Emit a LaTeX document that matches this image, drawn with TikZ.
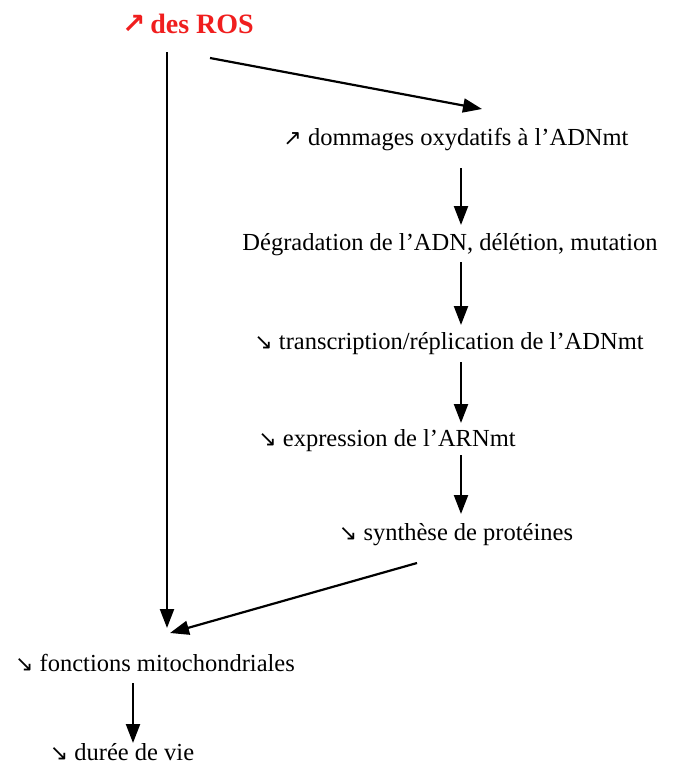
\documentclass[tikz,border=0pt]{standalone}
\usepackage{fontspec}
\setmainfont{Liberation Serif}
\newfontfamily\arrfont{DejaVu Sans}
\usetikzlibrary{arrows.meta}
\definecolor{rosred}{RGB}{240,30,30}
\tikzset{
  lbl/.style={anchor=base, inner sep=0pt, font=\fontsize{24.5}{28}\selectfont},
  flow/.style={line width=2.2pt, -{Triangle[width=14pt,length=19pt]}},
}
\newcommand{\up}{{\arrfont\fontsize{22}{24}\selectfont ↗}}
\newcommand{\down}{{\arrfont\fontsize{22}{24}\selectfont ↘}}
\begin{document}
\begin{tikzpicture}[x=1pt,y=-1pt]
\useasboundingbox (0,0) rectangle (673,774);
\node[lbl, text=rosred, font=\fontsize{28}{32}\selectfont\bfseries] (ros) at (188,33) {{\arrfont\fontsize{28}{30}\selectfont ↗}\,des ROS};
\node[lbl] (dom) at (456,145) {\up\ dommages oxydatifs à l’ADNmt};
\node[lbl] (deg) at (450,250) {Dégradation de l’ADN, délétion, mutation};
\node[lbl] (tra) at (449,349) {\down\ transcription/réplication de l’ADNmt};
\node[lbl] (exp) at (387,446) {\down\ expression de l’ARNmt};
\node[lbl] (syn) at (456,540) {\down\ synthèse de protéines};
\node[lbl] (fon) at (155,671) {\down\ fonctions mitochondriales};
\node[lbl] (dur) at (122,760) {\down\ durée de vie};
% connector ends
\coordinate (rosA) at (167,52);
\coordinate (rosB) at (210,58);
\coordinate (domIn) at (482,109);
\coordinate (domOut) at (461,168);
\coordinate (degIn) at (461,225);
\coordinate (degOut) at (461,262);
\coordinate (traIn) at (461,325);
\coordinate (traOut) at (461,362);
\coordinate (expIn) at (461,423);
\coordinate (expOut) at (461,455);
\coordinate (synIn) at (461,514);
\coordinate (synOut) at (417,563);
\coordinate (fonIn) at (167,628);
\coordinate (fonIn2) at (170,633);
\coordinate (fonOut) at (133,683);
\coordinate (durIn) at (133,743);
\draw[flow] (rosA) -- (fonIn);
\draw[flow] (rosB) -- (domIn);
\draw[flow] (domOut) -- (degIn);
\draw[flow] (degOut) -- (traIn);
\draw[flow] (traOut) -- (expIn);
\draw[flow] (expOut) -- (synIn);
\draw[flow] (synOut) -- (fonIn2);
\draw[flow] (fonOut) -- (durIn);
\end{tikzpicture}
\end{document}
